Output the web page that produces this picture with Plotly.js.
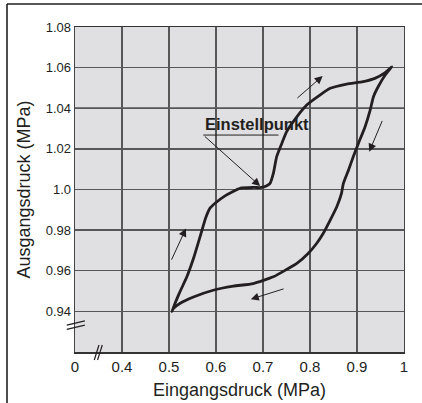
<!DOCTYPE html>
<html>
<head>
<meta charset="utf-8">
<script src="https://cdn.plot.ly/plotly-3.0.1.min.js"></script>
<style>html,body{margin:0;padding:0;background:#fff;}#chart{width:422px;height:403px;}</style>
</head>
<body>
<div id="chart"></div>
<script>
// Rising branch (Eingangsdruck steigend)
const upX = [0.506, 0.522, 0.538, 0.552, 0.566, 0.578, 0.587, 0.598, 0.620, 0.651, 0.680, 0.697, 0.707, 0.715, 0.722, 0.729, 0.740, 0.750, 0.772, 0.793, 0.821, 0.843, 0.878, 0.913, 0.938, 0.960, 0.974];
const upY = [0.940, 0.949, 0.957, 0.966, 0.9767, 0.986, 0.9907, 0.9932, 0.997, 1.0006, 1.001, 1.001, 1.0017, 1.003, 1.0079, 1.0161, 1.0227, 1.0284, 1.0358, 1.0416, 1.0465, 1.0498, 1.0519, 1.0531, 1.0547, 1.0575, 1.0604];
// Falling branch (Eingangsdruck fallend)
const downX = [0.974, 0.960, 0.945, 0.935, 0.928, 0.917, 0.903, 0.892, 0.882, 0.871, 0.867, 0.857, 0.843, 0.828, 0.814, 0.796, 0.772, 0.750, 0.722, 0.679, 0.637, 0.594, 0.552, 0.523, 0.509, 0.506];
const downY = [1.0604, 1.0564, 1.0506, 1.0457, 1.0391, 1.0308, 1.0227, 1.0161, 1.0096, 1.0030, 0.9981, 0.9915, 0.9849, 0.9783, 0.9734, 0.9685, 0.9636, 0.9606, 0.957, 0.9537, 0.9524, 0.9504, 0.9471, 0.9439, 0.9414, 0.940];

const xTickVals = [0.3, 0.4, 0.5, 0.6, 0.7, 0.8, 0.9, 1.0];
const xTickText = ["0", "0.4", "0.5", "0.6", "0.7", "0.8", "0.9", "1"];
const yTickVals = [0.94, 0.96, 0.98, 1.0, 1.02, 1.04, 1.06, 1.08];
const yTickText = ["0.94", "0.96", "0.98", "1.0", "1.02", "1.04", "1.06", "1.08"];

const xTitle = "Eingangsdruck (MPa)";
const yTitle = "Ausgangsdruck (MPa)";
const setLabel = "Einstellpunkt";

const ink = "#231f20";
const gridC = "#575757";

const loopX = upX.concat(downX.slice(1));
const loopY = upY.concat(downY.slice(1));

const trace = {
  x: loopX, y: loopY, mode: "lines", type: "scatter",
  line: {color: ink, width: 2.8, shape: "spline", smoothing: 0.5},
  hoverinfo: "skip", showlegend: false
};

function arrow(tx, ty, hx, hy) {
  return {x: hx, y: hy, ax: tx, ay: ty, xref: "x", yref: "y", axref: "x", ayref: "y",
    text: "", showarrow: true, arrowhead: 2, arrowsize: 1.6, arrowwidth: 1, arrowcolor: ink, standoff: 0};
}

const layout = {
  width: 422, height: 403,
  margin: {l: 75, r: 18, t: 27, b: 51},
  paper_bgcolor: "#ffffff",
  plot_bgcolor: "#e0e0e2",
  font: {family: "Liberation Sans, Arial, sans-serif", color: ink},
  showlegend: false,
  xaxis: {
    range: [0.3, 1.0], tickmode: "array", tickvals: xTickVals, ticktext: xTickText,
    showgrid: true, gridcolor: gridC, gridwidth: 1.4, zeroline: false,
    showline: true, linecolor: "#333", linewidth: 1.5, mirror: true,
    ticks: "", tickfont: {size: 15, color: ink},
    title: {text: xTitle, font: {size: 18, color: ink}, standoff: 10}
  },
  yaxis: {
    range: [0.92, 1.08], tickmode: "array", tickvals: yTickVals, ticktext: yTickText,
    showgrid: true, gridcolor: gridC, gridwidth: 1.4, zeroline: false,
    showline: true, linecolor: "#444", linewidth: 1.3, mirror: true,
    ticks: "", tickfont: {size: 13, color: ink},
    title: {text: yTitle, font: {size: 18, color: ink}, standoff: 10}
  },
  shapes: [
    // darker grid lines
    {type: "line", xref: "paper", yref: "y", x0: 0, x1: 1, y0: 1.04, y1: 1.04, line: {color: "#111", width: 1.4}, layer: "below"},
    {type: "line", xref: "paper", yref: "y", x0: 0, x1: 1, y0: 0.98, y1: 0.98, line: {color: "#111", width: 1.4}, layer: "below"},
    // outer frame (left + top)
    {type: "line", xref: "paper", yref: "paper", x0: -0.2067, x1: -0.2067, y0: 1.0708, y1: -0.2, line: {color: ink, width: 1.6}},
    {type: "line", xref: "paper", yref: "paper", x0: -0.2067, x1: 1.1, y0: 1.0708, y1: 1.0708, line: {color: ink, width: 1.6}},
    // y axis break marks
    {type: "line", xref: "paper", yref: "y", x0: -0.025, x1: 0.030, y0: 0.9332, y1: 0.9353, line: {color: ink, width: 1.2}},
    {type: "line", xref: "paper", yref: "y", x0: -0.025, x1: 0.030, y0: 0.9311, y1: 0.9332, line: {color: ink, width: 1.2}},
    // x axis break marks
    {type: "line", xref: "x", yref: "paper", x0: 0.341, x1: 0.351, y0: -0.0246, y1: 0.0215, line: {color: ink, width: 1.2}},
    {type: "line", xref: "x", yref: "paper", x0: 0.348, x1: 0.358, y0: -0.0246, y1: 0.0215, line: {color: ink, width: 1.2}},
    // underline of label
    {type: "line", xref: "x", yref: "y", x0: 0.573, x1: 0.733, y0: 1.0268, y1: 1.0268, line: {color: ink, width: 1}}
  ],
  annotations: [
    arrow(0.504, 0.9647, 0.536, 0.9808),
    arrow(0.747, 0.9513, 0.674, 0.946),
    arrow(0.770, 1.0444, 0.827, 1.0559),
    arrow(0.955, 1.0345, 0.926, 1.0186),
    arrow(0.573, 1.0268, 0.694, 1.0017),
    {x: 0.687, y: 1.0322, xref: "x", yref: "y", text: "<b>" + setLabel + "</b>", showarrow: false,
     font: {size: 16.5, color: ink}, xanchor: "center", yanchor: "middle"}
  ]
};

Plotly.newPlot("chart", [trace], layout, {staticPlot: true, displayModeBar: false});
</script>
</body>
</html>
